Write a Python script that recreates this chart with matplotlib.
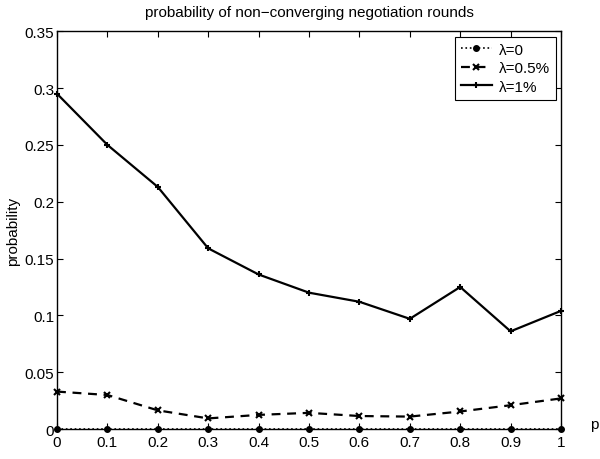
import numpy as np
import matplotlib
matplotlib.use("Agg")
import matplotlib.pyplot as plt

# data
p = [0, 0.1, 0.2, 0.3, 0.4, 0.5, 0.6, 0.7, 0.8, 0.9, 1.0]
prob_lambda0 = [0, 0, 0, 0, 0, 0, 0, 0, 0, 0, 0]
prob_lambda05 = [0.033, 0.030, 0.0165, 0.0094, 0.0125, 0.0143, 0.0115, 0.011, 0.0155, 0.021, 0.027]
prob_lambda1 = [0.295, 0.250, 0.213, 0.159, 0.136, 0.120, 0.112, 0.097, 0.125, 0.086, 0.104]
labels = ["\u03bb=0", "\u03bb=0.5%", "\u03bb=1%"]
x_ticks = [0, 0.1, 0.2, 0.3, 0.4, 0.5, 0.6, 0.7, 0.8, 0.9, 1]
x_tick_labels = ["0", "0.1", "0.2", "0.3", "0.4", "0.5", "0.6", "0.7", "0.8", "0.9", "1"]
y_ticks = [0, 0.05, 0.1, 0.15, 0.2, 0.25, 0.3, 0.35]
y_tick_labels = ["0", "0.05", "0.1", "0.15", "0.2", "0.25", "0.3", "0.35"]

plt.rcParams['font.family'] = ['Liberation Sans', 'DejaVu Sans']
plt.rcParams['font.size'] = 11

fig = plt.figure(figsize=(6, 4.6), dpi=100)
ax = fig.add_axes([0.095, 0.065, 0.84, 0.865])

ax.plot(p, prob_lambda0, 'k:', marker='o', markersize=4, linewidth=1.2, label=labels[0], clip_on=False, zorder=4)
ax.plot(p, prob_lambda05, 'k--', marker='x', markersize=4, markeredgewidth=1.5, linewidth=1.6,
        dashes=(4, 3), label=labels[1], clip_on=False)
ax.plot(p, prob_lambda1, 'k-', marker='+', markersize=5, markeredgewidth=1.5, linewidth=1.6,
        label=labels[2], clip_on=False)

ax.set_xlim(0, 1)
ax.set_ylim(0, 0.35)
ax.set_xticks(x_ticks)
ax.set_xticklabels(x_tick_labels)
ax.set_yticks(y_ticks)
ax.set_yticklabels(y_tick_labels)
ax.tick_params(direction='in', top=True, right=True, length=4, width=0.8)
ax.tick_params(axis='x', pad=4)
ax.tick_params(axis='y', pad=2)
for s in ax.spines.values():
    s.set_linewidth(1.0)

ax.set_title("probability of non\u2212converging negotiation rounds", fontsize=11, pad=11)
ax.set_ylabel("probability")
ax.yaxis.set_label_coords(-0.073, 0.5)
ax.set_xlabel("p")
ax.xaxis.set_label_coords(1.065, 0.012)
ax.xaxis.label.set_verticalalignment('center')

leg = ax.legend(loc='upper right', fancybox=False, edgecolor='black', framealpha=1,
                borderaxespad=0.35, handlelength=2.0, handletextpad=0.45, labelspacing=0.3,
                borderpad=0.4)
leg.get_frame().set_linewidth(0.8)

fig.savefig("out.png", dpi=100)
